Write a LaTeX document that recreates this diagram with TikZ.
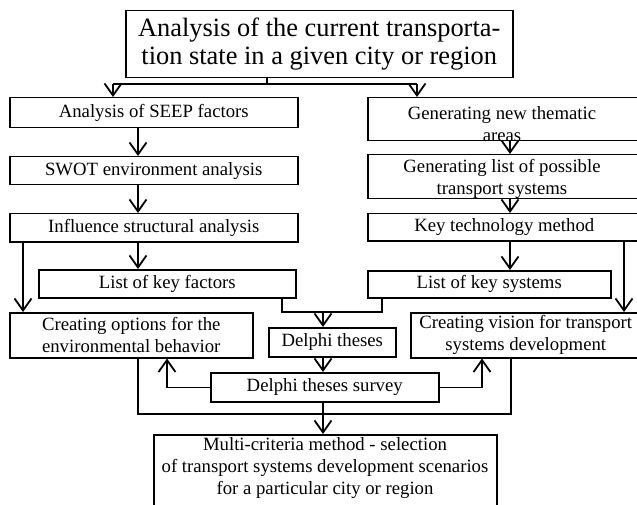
\documentclass[tikz,border=0pt]{standalone}
\usepackage{fontspec}
\setmainfont{Liberation Serif}
\usetikzlibrary{arrows.meta}
\begin{document}
\begin{tikzpicture}[x=1bp,y=-1bp,
  box/.style={draw, line width=1.5bp, inner sep=0pt, anchor=north west, align=center},
  lbl/.style={inner sep=0pt, align=center},
  conn/.style={line width=1.5bp},
  arr/.style={conn, -{Straight Barb[length=12bp,width=17bp,line width=1.8bp]}},
  font=\fontsize{18.8}{22}\selectfont]
\useasboundingbox (0,0) rectangle (637,505);

\node[box, minimum width=387bp, minimum height=67bp, font=\fontsize{26.5}{28}\selectfont] (top) at (125,10) {Analysis of the current transporta-\\tion state in a given city or region};
\node[box, minimum width=288bp, minimum height=30bp] (seep) at (9,97) {Analysis of SEEP factors};
\node[box, minimum width=288bp, minimum height=28bp] (swot) at (9,156) {SWOT environment analysis};
\node[box, minimum width=288bp, minimum height=28bp] (isa) at (9,213) {Influence structural analysis};
\node[box, minimum width=257bp, minimum height=28bp] (lkf) at (38,269) {List of key factors};
\node[box, minimum width=243bp, minimum height=45bp] (cro) at (9,312) {Creating options for the\\environmental behavior};
\node[box, minimum width=273bp, minimum height=43bp] (gnt) at (367,97) {};
\node[lbl] (gntt) at (502,124) {Generating new thematic\\areas};
\node[box, minimum width=273bp, minimum height=44bp] (gls) at (367,154) {};
\node[lbl] (glst) at (502,179) {Generating list of possible\\transport systems};
\node[box, minimum width=273bp, minimum height=27bp] (ktm) at (367,213) {Key technology method};
\node[box, minimum width=243bp, minimum height=27bp] (lks) at (367,270) {List of key systems};
\node[box, minimum width=230bp, minimum height=45bp] (crv) at (410,312) {Creating vision for transport\\systems development};
\node[box, minimum width=127bp, minimum height=29bp] (dt) at (268,327) {Delphi theses};
\node[box, minimum width=228bp, minimum height=29bp] (dts) at (210,372) {Delphi theses survey};
\node[box, minimum width=343bp, minimum height=80bp] (mcm) at (153,434) {};
\node[lbl] (mcmt) at (325,468) {Multi-criteria method - selection\\of transport systems development scenarios\\for a particular city or region};

\coordinate (split) at (267,84);
\coordinate (jl) at (113,84);
\coordinate (jr) at (417,84);
\draw[conn] (split |- top.south) -- (split);
\draw[conn] (jl) -- (jr);
\draw[arr] (jl) -- (jl |- seep.north);
\draw[arr] (jr) -- (jr |- gnt.north);
\draw[arr] (138,0 |- seep.south) -- (138,0 |- swot.north);
\draw[arr] (138,0 |- swot.south) -- (138,0 |- isa.north);
\draw[arr] (138,0 |- isa.south) -- (138,0 |- lkf.north);
\draw[arr] (23,0 |- isa.south) -- (23,0 |- cro.north);
\draw[arr] (510,0 |- gnt.south) -- (510,0 |- gls.north);
\draw[arr] (510,0 |- gls.south) -- (510,0 |- ktm.north);
\draw[arr] (510,0 |- ktm.south) -- (510,0 |- lks.north);
\draw[arr] (624,0 |- ktm.south) -- (624,0 |- crv.north);
\coordinate (jm) at (323,312);
\draw[conn] (282,0 |- lkf.south) |- (jm);
\draw[conn] (382,0 |- lks.south) |- (jm);
\draw[arr] (jm) -- (jm |- dt.north);
\draw[arr] (323,0 |- dt.south) -- (323,0 |- dts.north);
\draw[arr] (dts.west) -| (167,0 |- cro.south);
\draw[arr] (dts.east) -| (482,0 |- crv.south);
\coordinate (loopl) at (138,414);
\coordinate (loopr) at (511,414);
\draw[conn] (loopl |- cro.south) -- (loopl) -- (loopr) -- (loopr |- crv.south);
\draw[arr] (323,0 |- dts.south) -- (323,0 |- mcm.north);
\end{tikzpicture}
\end{document}
